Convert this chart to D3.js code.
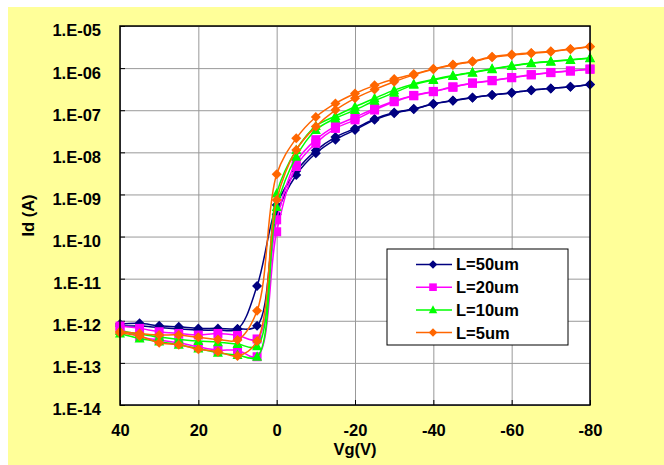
<!DOCTYPE html>
<html>
<head>
<meta charset="utf-8">
<script src="https://cdn.jsdelivr.net/npm/d3@7"></script>
<style>
  body { margin: 0; background: #fff; }
  text { font-family: "Liberation Sans", Arial, sans-serif; font-weight: bold; }
</style>
</head>
<body>
<div id="chart-area"></div>
<script>
const W = 664, H = 465;
const margin = { left: 120, right: 74, top: 26, bottom: 60 };
const PW = 590 - margin.left;
const PH = 405 - margin.top;

// gate voltage, one sweep (40 V -> -80 V), the return sweep uses the same points
const vg = [40, 35, 30, 25, 20, 15, 10, 5, 0, -5, -10, -15, -20, -25, -30, -35, -40, -45, -50, -55, -60, -65, -70, -75, -80];
const yTicks = [1e-5, 1e-6, 1e-7, 1e-8, 1e-9, 1e-10, 1e-11, 1e-12, 1e-13, 1e-14];
const xTicks = [40, 20, 0, -20, -40, -60, -80];
const names = ["L=50um", "L=20um", "L=10um", "L=5um"];

// drain current (A), two sweeps per channel length
const id50a = [8.4e-13, 8.7e-13, 7.6e-13, 7.2e-13, 6.6e-13, 6.6e-13, 6.4e-13, 7.6e-13, 3.4e-10, 2.9e-9, 9.5e-9, 2.0e-8, 3.4e-8, 5.9e-8, 8.5e-8, 1.05e-7, 1.4e-7, 1.68e-7, 1.98e-7, 2.3e-7, 2.6e-7, 3.0e-7, 3.3e-7, 3.6e-7, 4.1e-7];
const id50b = [7.5e-13, 7.5e-13, 6.9e-13, 6.4e-13, 6.0e-13, 6.0e-13, 6.4e-13, 6.7e-12, 5.6e-10, 3.6e-9, 1.1e-8, 2.3e-8, 3.7e-8, 6.2e-8, 8.8e-8, 1.08e-7, 1.42e-7, 1.7e-7, 2.0e-7, 2.3e-7, 2.6e-7, 3.0e-7, 3.3e-7, 3.6e-7, 4.1e-7];
const id20a = [6.3e-13, 4.2e-13, 3.5e-13, 3.0e-13, 2.4e-13, 2.0e-13, 2.0e-13, 1.4e-13, 1.3e-10, 4.6e-9, 1.64e-8, 3.7e-8, 5.9e-8, 1.01e-7, 1.59e-7, 2.2e-7, 2.75e-7, 3.5e-7, 4.35e-7, 5.0e-7, 5.9e-7, 6.9e-7, 7.8e-7, 8.5e-7, 9.4e-7];
const id20b = [7.5e-13, 6.6e-13, 5.5e-13, 5.0e-13, 4.6e-13, 5.0e-13, 4.5e-13, 3.7e-13, 2.5e-10, 5.9e-9, 2.0e-8, 4.2e-8, 6.8e-8, 1.1e-7, 1.66e-7, 2.25e-7, 2.8e-7, 3.6e-7, 4.45e-7, 5.1e-7, 6.0e-7, 7.0e-7, 7.9e-7, 8.6e-7, 9.5e-7];
const id10a = [5.0e-13, 3.8e-13, 3.2e-13, 2.7e-13, 2.2e-13, 1.75e-13, 1.54e-13, 1.4e-13, 5.0e-10, 7.9e-9, 3.4e-8, 6.4e-8, 1.01e-7, 1.68e-7, 2.6e-7, 4.0e-7, 5.2e-7, 6.5e-7, 7.8e-7, 9.4e-7, 1.12e-6, 1.3e-6, 1.42e-6, 1.56e-6, 1.71e-6];
const id10b = [5.7e-13, 4.85e-13, 4.1e-13, 3.6e-13, 3.3e-13, 3.1e-13, 2.8e-13, 2.5e-13, 1.06e-9, 1.14e-8, 4.2e-8, 7.3e-8, 1.21e-7, 1.92e-7, 3.0e-7, 4.2e-7, 5.4e-7, 6.7e-7, 8.0e-7, 9.6e-7, 1.14e-6, 1.32e-6, 1.45e-6, 1.58e-6, 1.73e-6];
const id5a = [5.1e-13, 4.35e-13, 3.0e-13, 2.7e-13, 2.1e-13, 1.84e-13, 1.46e-13, 3.3e-13, 7.4e-10, 1.14e-8, 4.1e-8, 1.01e-7, 1.92e-7, 3.1e-7, 4.75e-7, 6.9e-7, 9.4e-7, 1.19e-6, 1.42e-6, 1.81e-6, 2.05e-6, 2.25e-6, 2.45e-6, 2.8e-6, 3.2e-6];
const id5b = [5.5e-13, 5.0e-13, 4.6e-13, 4.6e-13, 4.05e-13, 3.6e-13, 3.5e-13, 1.73e-12, 3.0e-9, 2.15e-8, 6.9e-8, 1.45e-7, 2.5e-7, 3.9e-7, 5.5e-7, 7.2e-7, 9.6e-7, 1.22e-6, 1.46e-6, 1.85e-6, 2.1e-6, 2.3e-6, 2.5e-6, 2.85e-6, 3.25e-6];

const series = [
  { name: names[0], color: "#000080", shape: "diamond", sweeps: [id50a, id50b] },
  { name: names[1], color: "#FF00FF", shape: "square", sweeps: [id20a, id20b] },
  { name: names[2], color: "#00FF00", shape: "triangle", sweeps: [id10a, id10b] },
  { name: names[3], color: "#FF6600", shape: "diamond", sweeps: [id5a, id5b] }
];

const svg = d3.select("#chart-area").append("svg").attr("width", W).attr("height", H);
svg.append("rect").attr("x", 8).attr("y", 7).attr("width", W - 8).attr("height", H - 7).attr("fill", "#FFFF99");

const group = svg.append("g").attr("transform", `translate(${margin.left},${margin.top})`);
group.append("rect").attr("width", PW).attr("height", PH).attr("fill", "#fff");

const x = d3.scaleLinear().domain([40, -80]).range([0, PW]);
const y = d3.scaleLog().domain([1e-14, 1e-5]).range([PH, 0]);
const fmt = d => "1.E-" + String(-Math.round(Math.log10(d))).padStart(2, "0");

// gridlines
group.append("g").call(d3.axisLeft(y).tickValues(yTicks).tickSize(-PW).tickFormat(""))
  .call(g => g.select(".domain").remove())
  .call(g => g.selectAll("line").attr("stroke", "#999"));
group.append("g").attr("transform", `translate(0,${PH})`)
  .call(d3.axisBottom(x).tickValues(xTicks).tickSize(-PH).tickFormat(""))
  .call(g => g.select(".domain").remove())
  .call(g => g.selectAll("line").attr("stroke", "#999"));

// inner ticks
group.append("g").call(d3.axisLeft(y).tickValues(yTicks).tickSize(-5).tickFormat(""))
  .call(g => g.select(".domain").remove())
  .call(g => g.selectAll("line").attr("stroke", "#000"));
group.append("g").attr("transform", `translate(0,${PH})`)
  .call(d3.axisBottom(x).tickValues(xTicks).tickSize(-5).tickFormat(""))
  .call(g => g.select(".domain").remove())
  .call(g => g.selectAll("line").attr("stroke", "#000"));

// tick labels
group.append("g").call(d3.axisLeft(y).tickValues(yTicks).tickSize(0).tickPadding(19).tickFormat(fmt))
  .call(g => g.select(".domain").remove())
  .call(g => g.selectAll("text").attr("font-size", "16.5px").attr("fill", "#000").attr("dy", "0.6em"));
group.append("g").attr("transform", `translate(0,${PH})`)
  .call(d3.axisBottom(x).tickValues(xTicks).tickSize(0).tickPadding(19).tickFormat(d => String(d)))
  .call(g => g.select(".domain").remove())
  .call(g => g.selectAll("text").attr("font-size", "16.5px").attr("fill", "#000"));

const line = d3.line().x((d, i) => x(vg[i])).y(d => y(d)).curve(d3.curveCatmullRom.alpha(0.5));

function marker(shape) {
  if (shape === "diamond") return "M0,-5L5,0L0,5L-5,0Z";
  if (shape === "square") return "M-4.5,-4.5H4.5V4.5H-4.5Z";
  return "M0,-5.5L5,4L-5,4Z";
}

series.forEach(s => {
  const sg = group.append("g");
  s.sweeps.forEach(vals => {
    sg.append("path").attr("d", line(vals)).attr("fill", "none").attr("stroke", s.color).attr("stroke-width", 1.5);
  });
  s.sweeps.forEach(vals => {
    sg.selectAll(null).data(vals).enter().append("path")
      .attr("d", marker(s.shape))
      .attr("transform", (d, i) => `translate(${x(vg[i])},${y(d)})`)
      .attr("fill", s.color);
  });
});

// plot border
group.append("rect").attr("width", PW).attr("height", PH).attr("fill", "none").attr("stroke", "#000").attr("stroke-width", 1.5);

// axis titles
svg.append("text").attr("x", margin.left + PW / 2).attr("y", 455).attr("text-anchor", "middle")
  .attr("font-size", "16.5px").text("Vg(V)");
svg.append("text").attr("transform", `translate(34,${margin.top + PH / 2}) rotate(-90)`).attr("text-anchor", "middle")
  .attr("font-size", "16.5px").text("Id (A)");

// legend
const legend = svg.append("g").attr("transform", "translate(387,249)");
legend.append("rect").attr("width", 181).attr("height", 96).attr("fill", "#fff").attr("stroke", "#000").attr("stroke-width", 1);
series.forEach((s, i) => {
  const ly = 15.5 + i * 22.7;
  legend.append("line").attr("x1", 29).attr("x2", 65).attr("y1", ly).attr("y2", ly)
    .attr("stroke", s.color).attr("stroke-width", 1.5);
  legend.append("path").attr("d", marker(s.shape)).attr("transform", `translate(46,${ly}) scale(0.85)`).attr("fill", s.color);
  legend.append("text").attr("x", 69).attr("y", ly).attr("dy", "0.36em").attr("font-size", "16.5px").text(s.name);
});
</script>
</body>
</html>
